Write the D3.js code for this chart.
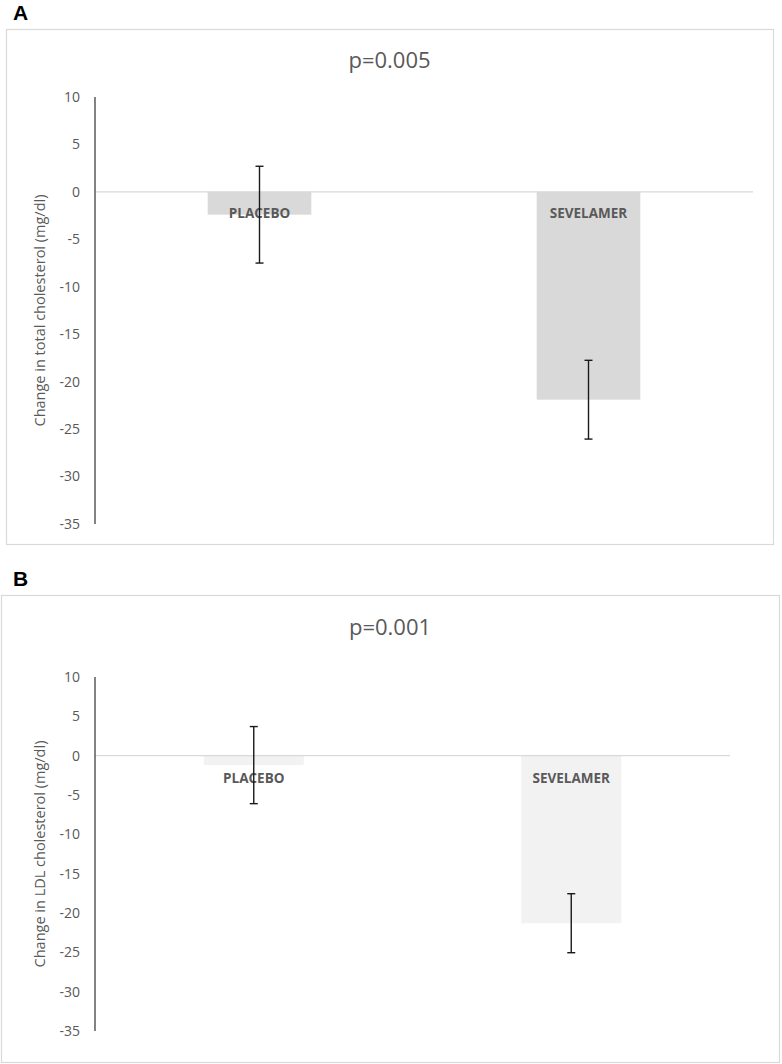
<!DOCTYPE html>
<html>
<head>
<meta charset="utf-8">
<script src="https://cdn.jsdelivr.net/npm/d3@7"></script>
<style>
  body { margin: 0; background: #fff; }
  svg { display: block; }
</style>
</head>
<body>
<div id="chart"></div>
<script>
// data
var categories = ["PLACEBO", "SEVELAMER"];
var totalChange = [-2.4, -21.9];
var totalErr = [5.1, 4.15];
var ldlChange = [-1.2, -21.3];
var ldlErr = [4.9, 3.75];
var yTicks = [10, 5, 0, -5, -10, -15, -20, -25, -30, -35];

var svg = d3.select("#chart")
  .append("svg")
  .attr("width", 782)
  .attr("height", 1064);

var font = "'Open Sans', 'Noto Sans', sans-serif";

function panel(opt) {
  var g = svg.append("g");

  // panel letter
  g.append("text")
    .attr("x", opt.letterX)
    .attr("y", opt.letterY)
    .style("font-family", "'Liberation Sans', Arial, sans-serif")
    .style("font-weight", "bold")
    .style("font-size", "21px")
    .attr("fill", "#000")
    .text(opt.letter);

  // chart border
  g.append("rect")
    .attr("x", opt.box.x + 0.5)
    .attr("y", opt.box.y + 0.5)
    .attr("width", opt.box.w)
    .attr("height", opt.box.h)
    .attr("fill", "#fff")
    .attr("stroke", "#d9d9d9")
    .attr("stroke-width", 1.2);

  // title
  g.append("text")
    .attr("x", opt.box.x + opt.box.w / 2)
    .attr("y", opt.titleY)
    .attr("text-anchor", "middle")
    .style("font-family", font)
    .style("font-size", "22px")
    .attr("fill", "#595959")
    .text(opt.title);

  var x = d3.scaleBand()
    .domain(categories)
    .range([opt.left, opt.right]);

  var y = d3.scaleLinear()
    .domain([10, -35])
    .range([opt.top, opt.bottom]);

  // tick labels
  g.selectAll(".tick-label")
    .data(yTicks)
    .enter()
    .append("text")
    .attr("x", opt.left - 15)
    .attr("y", function (d) { return y(d); })
    .attr("dy", "0.35em")
    .attr("text-anchor", "end")
    .style("font-family", font)
    .style("font-size", "14px")
    .attr("fill", "#595959")
    .text(function (d) { return d; });

  // y axis title
  g.append("text")
    .attr("transform", "translate(" + (opt.left - 50) + "," + ((opt.top + opt.bottom) / 2) + ") rotate(-90)")
    .attr("text-anchor", "middle")
    .style("font-family", font)
    .style("font-size", "14.5px")
    .attr("fill", "#595959")
    .text(opt.yTitle);

  var rows = categories.map(function (c, i) {
    return { cat: c, value: opt.values[i], err: opt.errs[i] };
  });

  var barW = x.bandwidth() * 0.315;

  // bars
  g.selectAll(".bar")
    .data(rows)
    .enter()
    .append("rect")
    .attr("x", function (d) { return x(d.cat) + x.bandwidth() / 2 - barW / 2; })
    .attr("y", y(0))
    .attr("width", barW)
    .attr("height", function (d) { return y(d.value) - y(0); })
    .attr("fill", opt.barColor);

  // zero line
  g.append("line")
    .attr("x1", opt.left)
    .attr("x2", opt.right)
    .attr("y1", y(0))
    .attr("y2", y(0))
    .attr("stroke", "#d9d9d9")
    .attr("stroke-width", 1.2);

  // y axis line
  g.append("line")
    .attr("x1", opt.left)
    .attr("x2", opt.left)
    .attr("y1", y(10))
    .attr("y2", y(-35))
    .attr("stroke", "#404040")
    .attr("stroke-width", 1.3);

  // bar labels
  g.selectAll(".bar-label")
    .data(rows)
    .enter()
    .append("text")
    .attr("x", function (d) { return x(d.cat) + x.bandwidth() / 2; })
    .attr("y", y(0) + opt.labelOffset)
    .attr("text-anchor", "middle")
    .style("font-family", font)
    .style("font-weight", "bold")
    .style("font-size", "13.5px")
    .attr("fill", "#595959")
    .text(function (d) { return d.cat; });

  // error bars
  var eb = g.selectAll(".err")
    .data(rows)
    .enter()
    .append("g")
    .attr("transform", function (d) { return "translate(" + (x(d.cat) + x.bandwidth() / 2) + ",0)"; });

  eb.append("line")
    .attr("x1", 0).attr("x2", 0)
    .attr("y1", function (d) { return y(d.value + d.err); })
    .attr("y2", function (d) { return y(d.value - d.err); })
    .attr("stroke", "#1a1a1a")
    .attr("stroke-width", 1.4);

  eb.selectAll(".cap")
    .data(function (d) { return [d.value + d.err, d.value - d.err]; })
    .enter()
    .append("line")
    .attr("x1", -4).attr("x2", 4)
    .attr("y1", function (v) { return y(v); })
    .attr("y2", function (v) { return y(v); })
    .attr("stroke", "#1a1a1a")
    .attr("stroke-width", 1.4);
}

panel({
  letter: "A", letterX: 13, letterY: 20,
  box: { x: 6, y: 29, w: 767, h: 515 },
  title: "p=0.005", titleY: 68,
  left: 95, right: 753, top: 97, bottom: 524,
  yTitle: "Change in total cholesterol (mg/dl)",
  values: totalChange, errs: totalErr,
  barColor: "#d9d9d9", labelOffset: 26
});

panel({
  letter: "B", letterX: 13, letterY: 586,
  box: { x: 1, y: 595, w: 778, h: 467 },
  title: "p=0.001", titleY: 635,
  left: 95, right: 730, top: 677, bottom: 1031,
  yTitle: "Change in LDL cholesterol (mg/dl)",
  values: ldlChange, errs: ldlErr,
  barColor: "#f2f2f2", labelOffset: 27
});
</script>
</body>
</html>
